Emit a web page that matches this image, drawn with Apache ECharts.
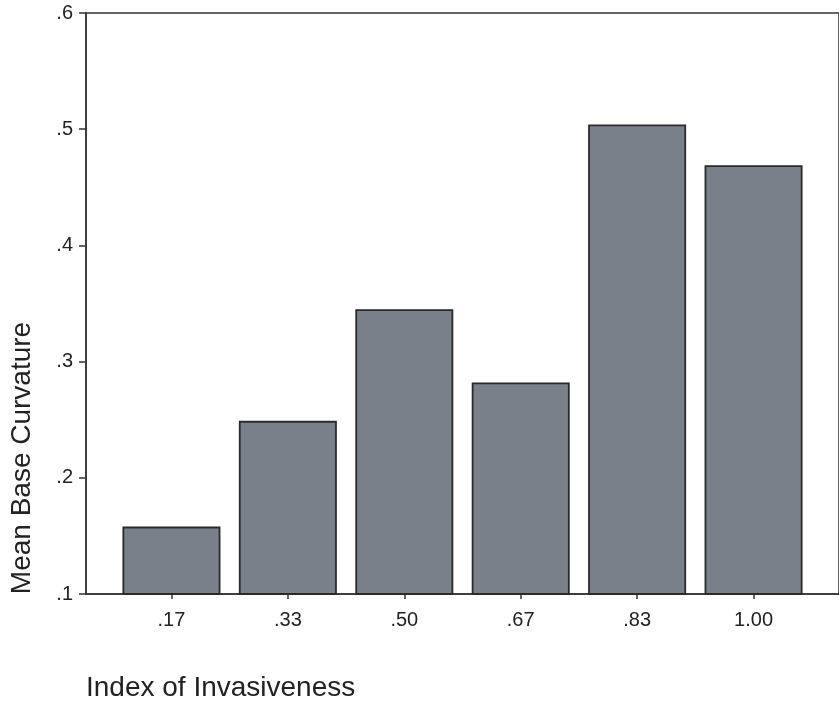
<!DOCTYPE html>
<html>
<head>
<meta charset="utf-8">
<script src="https://cdn.jsdelivr.net/npm/echarts@6/dist/echarts.min.js"></script>
<style>html,body{margin:0;padding:0;background:#fff;}#c{width:839px;height:706px;}</style>
</head>
<body>
<div id="c"></div>
<script>
var categories = ['.17', '.33', '.50', '.67', '.83', '1.00'];
var positions = [1, 2, 3, 4, 5, 6];
var meanCurvature = [0.158, 0.249, 0.345, 0.282, 0.504, 0.469];
var yTickLabels = ['.1', '.2', '.3', '.4', '.5', '.6'];
var xAxisTitle = 'Index of Invasiveness';
var yAxisTitle = 'Mean Base Curvature';

var font = '"Liberation Sans", Arial, Helvetica, sans-serif';
var chart = echarts.init(document.getElementById('c'), null, {renderer: 'canvas'});
var data = positions.map(function (p, i) { return [p, meanCurvature[i]]; });
chart.setOption({
  animation: false,
  backgroundColor: '#ffffff',
  grid: {
    left: 86, top: 13, width: 758, bottom: 112,
    show: true, borderColor: '#333', borderWidth: 1.5, backgroundColor: 'transparent'
  },
  xAxis: {
    type: 'value', min: 0.266, max: 6.734,
    axisLine: {onZero: false, lineStyle: {color: '#333', width: 1.5}},
    axisTick: {customValues: positions, length: 5, lineStyle: {color: '#333', width: 1.5}},
    axisLabel: {
      customValues: positions,
      formatter: function (v) { return categories[Math.round(v) - 1]; },
      color: '#222', fontSize: 20, fontFamily: font, margin: 16
    },
    splitLine: {show: false}
  },
  yAxis: {
    type: 'value', min: 0.1, max: 0.6, interval: 0.1,
    axisLine: {show: true, lineStyle: {color: '#333', width: 1.5}},
    axisTick: {show: true, length: 7, lineStyle: {color: '#333', width: 1.5}},
    axisLabel: {
      formatter: function (v, i) { return yTickLabels[i]; },
      color: '#222', fontSize: 20, fontFamily: font, margin: 13
    },
    splitLine: {show: false}
  },
  graphic: [
    {type: 'text', left: 86, top: 674,
     style: {text: xAxisTitle, font: '28px ' + font, fill: '#222'}},
    {type: 'text', x: 22, y: 458, rotation: Math.PI / 2,
     style: {text: yAxisTitle, font: '28px ' + font, fill: '#222', align: 'center', verticalAlign: 'middle'}}
  ],
  series: [{
    type: 'bar', data: data, barWidth: 98,
    itemStyle: {color: '#7a8089', borderColor: '#2a2a2a', borderWidth: 1.8}
  }]
});
</script>
</body>
</html>
